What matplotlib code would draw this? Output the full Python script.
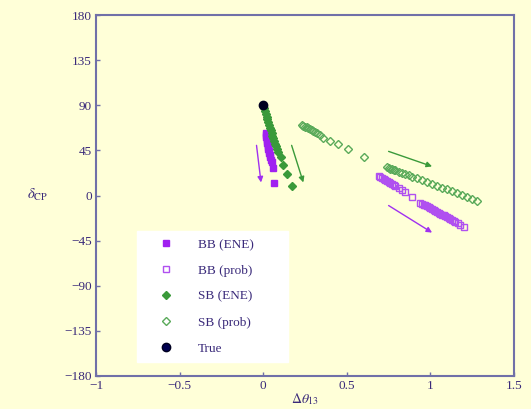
import matplotlib
matplotlib.use("Agg")
import matplotlib.pyplot as plt

plt.rcParams['font.family'] = ['Liberation Serif', 'DejaVu Serif']
plt.rcParams['mathtext.fontset'] = 'stix'

# ---- data ----
bb_ene_x = [0.015, 0.017, 0.019, 0.021, 0.023, 0.025, 0.027, 0.029, 0.031, 0.033, 0.036, 0.039, 0.042, 0.046, 0.05, 0.06, 0.065]
bb_ene_y = [62, 60, 58, 56, 54, 52, 50, 48, 46, 44, 42, 40, 38, 35, 33, 27, 12]

bb_prob1_x = [0.69, 0.70, 0.71, 0.72, 0.73, 0.74, 0.75, 0.76, 0.77, 0.78, 0.79, 0.81, 0.83, 0.85, 0.89]
bb_prob1_y = [19, 18, 17, 16, 15, 14, 13, 12, 11, 10, 9, 7, 5, 3, -1]
bb_prob2_x = [0.94, 0.95, 0.96, 0.97, 0.98, 0.99, 1.00, 1.01, 1.02, 1.03, 1.04, 1.05, 1.06, 1.07,
              1.08, 1.09, 1.10, 1.11, 1.12, 1.13, 1.14, 1.15, 1.165, 1.18, 1.20]
bb_prob2_y = [-7, -8, -9, -9.8, -10.7, -11.6, -12.5, -13.5, -14.4, -15.3, -16.2, -17.1, -18, -19,
              -19.9, -20.8, -21.7, -22.6, -23.5, -24.5, -25.4, -26.3, -27.6, -29, -31]

sb_ene_x = [0.005, 0.01, 0.015, 0.02, 0.025, 0.03, 0.035, 0.04, 0.045, 0.05, 0.055, 0.06, 0.065,
            0.07, 0.075, 0.08, 0.09, 0.105, 0.12, 0.14, 0.17]
sb_ene_y = [87, 84, 81, 78.5, 76, 73, 70, 67.5, 65, 62, 59.5, 57, 54, 51.5, 49, 46, 43, 38, 30, 21, 9]

sb_prob1_x = [0.23, 0.24, 0.25, 0.26, 0.27, 0.28, 0.29, 0.30, 0.31, 0.32, 0.34, 0.36, 0.40, 0.45, 0.51, 0.60]
sb_prob1_y = [70, 69, 68.5, 68, 67, 66, 65.5, 64.5, 63.5, 62.5, 60, 57, 54, 51, 46, 38]
sb_prob2_x = [0.74, 0.75, 0.76, 0.77, 0.78, 0.79, 0.81, 0.83, 0.85, 0.87, 0.89, 0.92, 0.95, 0.98,
              1.01, 1.04, 1.07, 1.10, 1.13, 1.16, 1.19, 1.22, 1.25, 1.28]
sb_prob2_y = [28, 27.4, 26.8, 26.2, 25.6, 25, 23.7, 22.5, 21.3, 20.1, 18.9, 17, 15.2, 13.4,
              11.5, 9.7, 7.9, 6, 4.2, 2.4, 0.5, -1.3, -3.1, -5]

true_x = [0.0]
true_y = [90]

labels = ['BB (ENE)', 'BB (prob)', 'SB (ENE)', 'SB (prob)', 'True']
xticks = [-1, -0.5, 0, 0.5, 1, 1.5]
xticklabels = ['\u22121', '\u22120.5', '0', '0.5', '1', '1.5']
yticks = [-180, -135, -90, -45, 0, 45, 90, 135, 180]
yticklabels = ['\u2212180', '\u2212135', '\u221290', '\u221245', '0', '45', '90', '135', '180']

# arrows (tail, head)
arrows = [
    ((-0.04, 50), (-0.013, 13), '#a030f0'),
    ((0.17, 50), (0.24, 13), '#3a9a3a'),
    ((0.75, 44), (1.01, 29), '#3a9a3a'),
    ((0.75, -10), (1.01, -37), '#a030f0'),
]

# ---- figure ----
bg = '#ffffd8'
purple = '#a020f0'
purple_open = '#b050f0'
green = '#3a9a3a'
green_open = '#5aaa5a'
navy = '#000050'
tickcol = '#3a2a7a'
spinecol = '#7070a8'

fig = plt.figure(figsize=(5.31, 4.09), dpi=100, facecolor=bg)
ax = fig.add_axes([96 / 531, 33 / 409, 418 / 531, 361 / 409])
ax.set_facecolor(bg)

ax.plot(bb_ene_x, bb_ene_y, ls='none', marker='s', ms=5, color=purple, mec=purple, label=labels[0])
ax.plot(bb_prob1_x, bb_prob1_y, ls='none', marker='s', ms=5, mfc='none', mec=purple_open, mew=1.0, label=labels[1])
ax.plot(bb_prob2_x, bb_prob2_y, ls='none', marker='s', ms=5, mfc='none', mec=purple_open, mew=1.0)
ax.plot(sb_ene_x, sb_ene_y, ls='none', marker='D', ms=4, color=green, mec=green, label=labels[2])
ax.plot(sb_prob1_x, sb_prob1_y, ls='none', marker='D', ms=4.5, mfc='none', mec=green_open, mew=1.0, label=labels[3])
ax.plot(sb_prob2_x, sb_prob2_y, ls='none', marker='D', ms=4.5, mfc='none', mec=green_open, mew=1.0)
ax.plot(true_x, true_y, ls='none', marker='o', ms=6, color='#000020', mec='#000020', label=labels[4])

for (tail, head, c) in arrows:
    ax.annotate('', xy=head, xytext=tail,
                arrowprops=dict(arrowstyle='-|>', color=c, lw=1.0, mutation_scale=8, shrinkA=0, shrinkB=0))

ax.set_xlim(-1, 1.5)
ax.set_ylim(-180, 180)
ax.set_xticks(xticks)
ax.set_xticklabels(xticklabels)
ax.set_yticks(yticks)
ax.set_yticklabels(yticklabels)
ax.tick_params(direction='in', length=3, width=1, color=spinecol, labelcolor=tickcol,
               labelsize=9.5, top=False, right=False, pad=3)
for s in ax.spines.values():
    s.set_color(spinecol)
    s.set_linewidth(1.5)

fig.text(305 / 531, 1 - 399 / 409, r'$\Delta\theta_{13}$', fontsize=10, color=tickcol,
         ha='center', va='center')
fig.text(38 / 531, 1 - 195 / 409, r'$\delta_{\rm CP}$', fontsize=10.5, color=tickcol, ha='center', va='center')

leg = ax.legend(loc='lower left', bbox_to_anchor=(0.098, 0.039, 0.361, 0.36), mode='expand',
                frameon=True, fancybox=False,
                facecolor='white', edgecolor='white', framealpha=1, fontsize=9.5,
                labelspacing=1.04, borderpad=0.55, handletextpad=0.72, borderaxespad=0,
                handlelength=3.35, numpoints=1)
for t in leg.get_texts():
    t.set_color(tickcol)
leg.legend_handles[4].set_color(navy)

fig.savefig('out.png', dpi=100, facecolor=bg)
